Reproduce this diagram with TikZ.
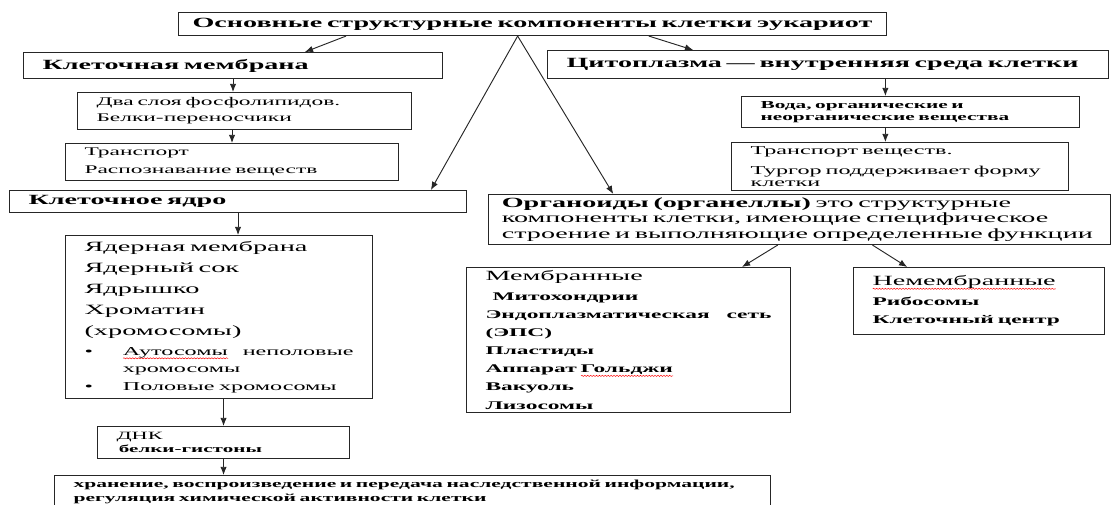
\documentclass[tikz,border=0pt]{standalone}
\usepackage{fontspec}
\setmainfont{Liberation Serif}[FakeStretch=2.0]
\usetikzlibrary{arrows.meta, positioning, calc, decorations.pathmorphing}

% red wavy mark under a word
\newlength\spellw
\newcommand{\spellmark}[1]{\settowidth{\spellw}{#1}%
    \rlap{\tikz[baseline=0pt, x=1pt, y=1pt]
        \draw[red, line width=0.4pt, decorate, decoration={snake, amplitude=0.5pt, segment length=2.5pt}]
        (0,-2.5) -- (\spellw,-2.5);}#1}

\begin{document}
\begin{tikzpicture}[
    x=0.03cm, y=-0.03cm,
    % Plain box
    box/.style={
        rectangle,
        draw=black!85,
        line width=0.9pt,
        anchor=north west,
        inner xsep=0.57cm,
        inner ysep=0pt,
        align=left,
        font=\fontsize{10}{13}\selectfont
    },
    % Heading box
    headbox/.style={
        box,
        font=\fontsize{12}{14}\selectfont\bfseries
    },
    arrow/.style={
        -{Latex[length=7pt,width=5.5pt]},
        line width=0.8pt,
        black!85
    }
]
\useasboundingbox (0,0) rectangle (1112,505);

% === Top ===
\node[headbox, align=center, inner xsep=0.12cm, text width=21cm, minimum height=0.69cm] (title) at (178,12)
    {Основные структурные компоненты клетки эукариот};

% === Left branch: membrane ===
\node[headbox, text width=11.43cm, minimum height=0.78cm] (membr) at (23,52) {Клеточная мембрана};
\node[box, text width=8.88cm, minimum height=1.11cm, font=\fontsize{10}{13.5}\selectfont] (dva) at (77,92)
    {Два слоя фосфолипидов.\\Белки-переносчики};
\node[box, text width=8.85cm, minimum height=1.11cm, font=\fontsize{10}{15}\selectfont] (transp) at (65,143)
    {Транспорт\\Распознавание веществ};

% === Left branch: nucleus ===
\node[headbox, text width=12.57cm, minimum height=0.66cm] (nucleus) at (9,190) {Клеточное ядро};
\node[box, text width=8.07cm, minimum height=4.89cm, font=\fontsize{12.1}{18}\selectfont] (nucmem) at (65,235)
    {Ядерная мембрана\\Ядерный сок\\Ядрышко\\Хроматин\\(хромосомы)\\[-1pt]
     {\fontsize{10.3}{15}\selectfont\makebox[1.15cm][l]{•}\spellmark{Аутосомы}\hfill неполовые}\\[-3pt]
     {\fontsize{10.3}{15}\selectfont\hspace*{1.15cm}хромосомы}\\[-3pt]
     {\fontsize{10.3}{15}\selectfont\makebox[1.15cm][l]{•}Половые хромосомы}};
\node[box, text width=6.42cm, minimum height=0.96cm, font=\fontsize{9.5}{11}\selectfont] (dnk) at (97,426)
    {ДНК\\{\fontsize{9}{11}\selectfont\bfseries\hspace*{2pt}белки-гистоны}};
\node[box, text width=20.34cm, minimum height=1.32cm, font=\fontsize{9.2}{12}\selectfont\bfseries] (hran) at (54,475)
    {хранение, воспроизведение и передача наследственной информации,\\регуляция химической активности клетки\\\mbox{}};

% === Right branch: cytoplasm ===
\node[headbox, text width=15.69cm, minimum height=0.84cm] (cyto) at (547,50) {Цитоплазма — внутренняя среда клетки};
\node[box, text width=9cm, minimum height=0.93cm, font=\fontsize{9.1}{10.5}\selectfont\bfseries] (voda) at (741,96)
    {Вода, органические и\\неорганические вещества};
\node[box, text width=8.97cm, minimum height=1.44cm, font=\fontsize{10.3}{10}\selectfont] (transv) at (731,142)
    {Транспорт веществ.\\[7pt]Тургор поддерживает форму\\клетки};

% === Organoids ===
\node[box, inner xsep=0.4cm, text width=17.86cm, minimum height=1.5cm, font=\fontsize{12}{13}\selectfont] (organ) at (488,194)
    {\textbf{Органоиды (органеллы)} это структурные\\компоненты клетки, имеющие специфическое\\строение и выполняющие определенные функции};
\node[box, text width=8.58cm, minimum height=4.35cm, font=\fontsize{10}{15.4}\selectfont\bfseries] (membrannye) at (466,267)
    {{\fontsize{12}{15}\selectfont\mdseries Мембранные}\\[1.5pt]
     \hspace*{6pt}Митохондрии\\Эндоплазматическая\hfill сеть\\(ЭПС)\\Пластиды\\Аппарат \spellmark{Гольджи}\\Вакуоль\\Лизосомы};
\node[box, text width=6.39cm, minimum height=2.01cm, font=\fontsize{10}{15.4}\selectfont\bfseries] (nemembr) at (853,267)
    {{\fontsize{12}{15}\selectfont\mdseries\spellmark{Немембранные}}\\[1.5pt]Рибосомы\\Клеточный центр};

% === Arrows from the top ===
\draw[arrow] ($(title.south west)!0.237!(title.south east)$) -- ($(membr.north west)!0.671!(membr.north east)$);
\draw[arrow] ($(title.south west)!0.664!(title.south east)$) -- ($(cyto.north west)!0.26!(cyto.north east)$);
\draw[arrow] ($(title.south west)!0.479!(title.south east)$) -- ($(nucleus.north west)!0.921!(nucleus.north east)$);
\draw[arrow] ($(title.south west)!0.479!(title.south east)$) -- ($(organ.north west)!0.201!(organ.north east)$);

% === Vertical arrows ===
\draw[arrow] (membr.south) -- (membr.south |- dva.north);
\draw[arrow] (dva.south -| transp.north) -- (transp.north);
\draw[arrow] (nucleus.south) -- (nucleus.south |- nucmem.north);
\draw[arrow] (nucmem.south -| dnk.north) -- (dnk.north);
\draw[arrow] (dnk.south) -- (dnk.south |- hran.north);
\coordinate (cv) at ($(cyto.south west)!0.602!(cyto.south east)$);
\draw[arrow] (cv) -- (cv |- voda.north);
\draw[arrow] (cv |- voda.south) -- (cv |- transv.north);

% === Organoid groups ===
\draw[arrow] ($(organ.south west)!0.465!(organ.south east)$) -- ($(membrannye.north west)!0.849!(membrannye.north east)$);
\draw[arrow] ($(organ.south west)!0.617!(organ.south east)$) -- ($(nemembr.north west)!0.215!(nemembr.north east)$);

\end{tikzpicture}
\end{document}
